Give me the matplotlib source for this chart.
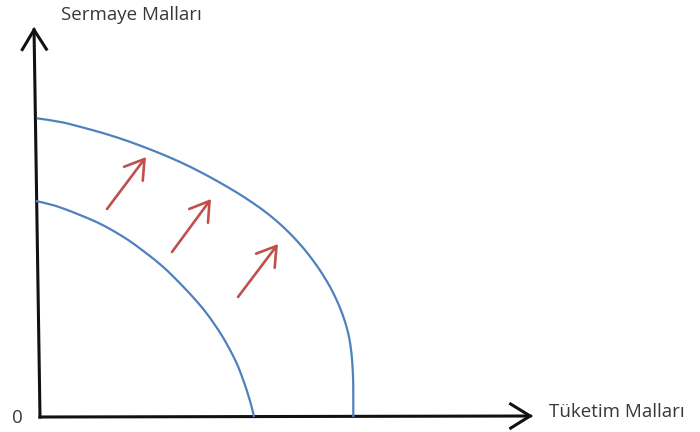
import matplotlib
matplotlib.use('Agg')
import matplotlib.pyplot as plt
from matplotlib.patches import FancyArrowPatch, PathPatch
from matplotlib.path import Path

# curves (origin at the axes corner, units ~ pixels)
inner_x = [-4, 10, 25, 40, 57, 73, 90, 100, 110, 118, 126.7, 135, 143.3, 152, 160, 168, 175,
           182, 188.3, 193.5, 198.3, 202.7, 206.7, 209.4, 211.7, 214]
inner_y = [216, 213, 208, 202, 195, 186.5, 176, 168.5, 161, 154.5, 147, 138.7, 130.3, 121, 112,
           102, 92, 81.5, 70.3, 60.5, 50.3, 38.5, 27, 18, 10.3, 0]

outer_x = [-3.3, 18, 40, 65, 90, 115, 140, 165, 190, 205, 220, 230, 240, 250, 260, 268, 276.7,
           283.5, 290, 295, 300, 303.5, 306.7, 309, 310.7, 311.9, 312.7, 313.2, 313.3, 313.3]
outer_y = [298.7, 296, 290.3, 283.5, 275.3, 265.8, 255.3, 242.8, 228.7, 219.4, 209.2, 201.6,
           193.1, 183.6, 172.9, 163.3, 151.6, 141.4, 130.4, 120.6, 109.4, 100, 89.8, 80.6, 70.4,
           59.6, 48.4, 35.9, 25, 0]

# red shift arrows: (tail, head)
shift_tails = [(67, 208), (132, 165), (198, 120)]
shift_heads = [(106, 260), (171, 218), (238, 173)]

y_label = 'Sermaye Malları'
x_label = 'Tüketim Malları'
origin_label = '0'

blue = '#4f81bd'
red = '#c0504d'
ink = '#383838'


def smooth_path(xs, ys):
    # quadratic pieces through the midpoints, so the read points act as control points
    pts = list(zip(xs, ys))
    verts = [pts[0]]
    codes = [Path.MOVETO]
    for i in range(1, len(pts) - 1):
        mid = ((pts[i][0] + pts[i + 1][0]) / 2, (pts[i][1] + pts[i + 1][1]) / 2)
        verts += [pts[i], mid]
        codes += [Path.CURVE3, Path.CURVE3]
    verts.append(pts[-1])
    codes.append(Path.LINETO)
    return Path(verts, codes)


fig = plt.figure(figsize=(7, 4.32), dpi=100)
ax = fig.add_axes([0, 0, 1, 1])
ax.set_xlim(-40, 660)
ax.set_ylim(-15, 417)
ax.axis('off')

# axes with open arrowheads
for tip in [(-6, 390), (493, 1)]:
    ax.add_patch(FancyArrowPatch((0, 0), tip, arrowstyle='->,head_length=1.0,head_width=0.62',
                                 mutation_scale=14, lw=2.2, color='#111111',
                                 shrinkA=0, shrinkB=0, joinstyle='miter', capstyle='projecting'))

for xs, ys in [(inner_x, inner_y), (outer_x, outer_y)]:
    ax.add_patch(PathPatch(smooth_path(xs, ys), fill=False, edgecolor=blue, lw=1.6,
                           capstyle='butt', joinstyle='round'))

for t, h in zip(shift_tails, shift_heads):
    ax.add_patch(FancyArrowPatch(t, h, arrowstyle='->,head_length=0.95,head_width=0.6',
                                 mutation_scale=14, lw=1.9, color=red,
                                 shrinkA=0, shrinkB=0))

font = dict(family='Open Sans', fontsize=13.5, color=ink)
ax.text(91, 402, y_label, ha='center', va='center', **font)
ax.text(509, 5, x_label, ha='left', va='center', **font)
ax.text(-23, -1, origin_label, ha='center', va='center', **font)

fig.savefig('out.png', dpi=100)
